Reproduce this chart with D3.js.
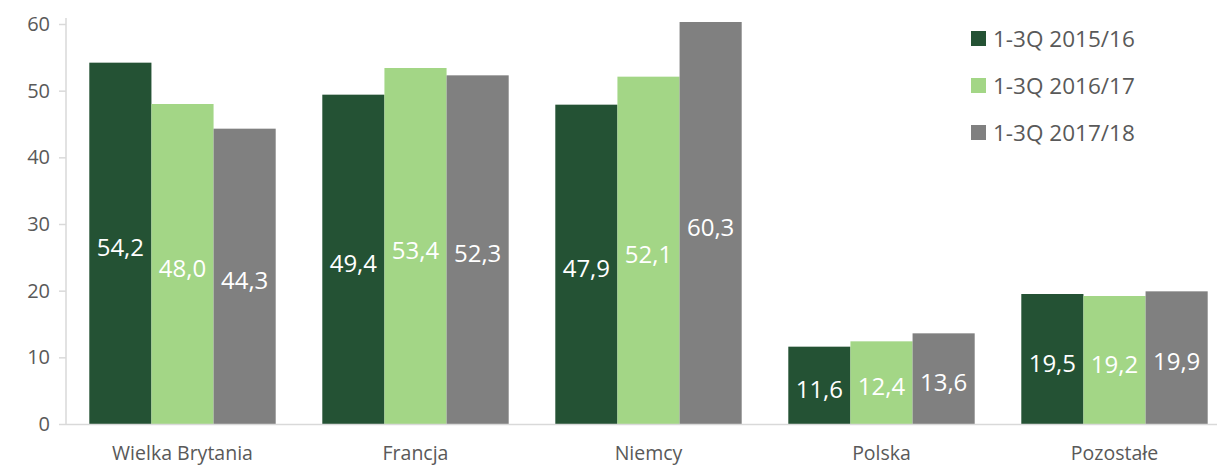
<!DOCTYPE html>
<html><head><meta charset="utf-8">
<script src="https://cdn.jsdelivr.net/npm/d3@7"></script>
<style>body{margin:0;background:#fff}svg{display:block}</style>
</head><body>
<svg id="c" width="1217" height="466"></svg>
<script>
const categories = ["Wielka Brytania","Francja","Niemcy","Polska","Pozostałe"];
const seriesNames = ["1-3Q 2015/16","1-3Q 2016/17","1-3Q 2017/18"];
const s2015 = [54.2,49.4,47.9,11.6,19.5];
const s2016 = [48.0,53.4,52.1,12.4,19.2];
const s2017 = [44.3,52.3,60.3,13.6,19.9];
const yTicks = [0,10,20,30,40,50,60];
const colors = ["#245234","#a3d686","#808080"];
const seriesValues = [s2015,s2016,s2017];

const svg = d3.select("#c");
const font = "'Open Sans', 'Noto Sans', sans-serif";
const y = d3.scaleLinear().domain([0,60]).range([424,24]);
const x0 = d3.scaleBand().domain(categories).range([66,1231]);
const bw = x0.bandwidth();
const x1 = d3.scaleBand().domain(d3.range(3)).range([0.1*bw,0.9*bw]);

// axes
const yAxis = svg.append("g").attr("transform","translate(66,0)")
  .call(d3.axisLeft(y).tickValues(yTicks).tickSize(7).tickPadding(9).tickFormat(d3.format("d")));
yAxis.select(".domain").attr("stroke","#d9d9d9").attr("stroke-width",1.5).attr("d","M0,424V18");
yAxis.selectAll(".tick line").attr("stroke","#d9d9d9").attr("stroke-width",1.5);
yAxis.selectAll(".tick text").attr("fill","#595959").style("font-family",font).style("font-size","20px");

const groups = svg.append("g").selectAll("g").data(categories).join("g")
  .attr("transform",d=>`translate(${x0(d)},0)`);
groups.each(function(cat,ci){
  const g = d3.select(this);
  seriesValues.forEach((vals,si)=>{
    const v = vals[ci];
    g.append("rect").attr("x",x1(si)).attr("width",x1.bandwidth())
      .attr("y",y(v)).attr("height",y(0)-y(v)).attr("fill",colors[si]);
  });
  seriesValues.forEach((vals,si)=>{
    const v = vals[ci];
    g.append("text").attr("x",x1(si)+x1.bandwidth()/2).attr("y",(y(v)+y(0))/2+3)
      .attr("text-anchor","middle").attr("dominant-baseline","central")
      .attr("fill","#fff").style("font-family",font).style("font-size","24px")
      .text(d3.format(".1f")(v).replace(".",","));
  });
});

// x axis line
svg.append("line").attr("x1",66).attr("x2",1217).attr("y1",424.5).attr("y2",424.5)
  .attr("stroke","#d9d9d9").attr("stroke-width",1.5);
const xAxis = svg.append("g").attr("transform","translate(0,424)")
  .call(d3.axisBottom(x0).tickSize(0));
xAxis.select(".domain").remove();
xAxis.selectAll(".tick text").attr("y",35.5).attr("dy",null)
  .attr("fill","#595959").style("font-family",font).style("font-size","19.5px");

// legend
const leg = svg.append("g").selectAll("g").data(seriesNames).join("g")
  .attr("transform",(d,i)=>`translate(971,${31+i*47})`);
leg.append("rect").attr("width",15).attr("height",15).attr("fill",(d,i)=>colors[i]);
leg.append("text").attr("x",22).attr("y",7.5).attr("dominant-baseline","central")
  .attr("fill","#595959").style("font-family",font).style("font-size","22.5px").text(d=>d);
</script>
</body></html>
